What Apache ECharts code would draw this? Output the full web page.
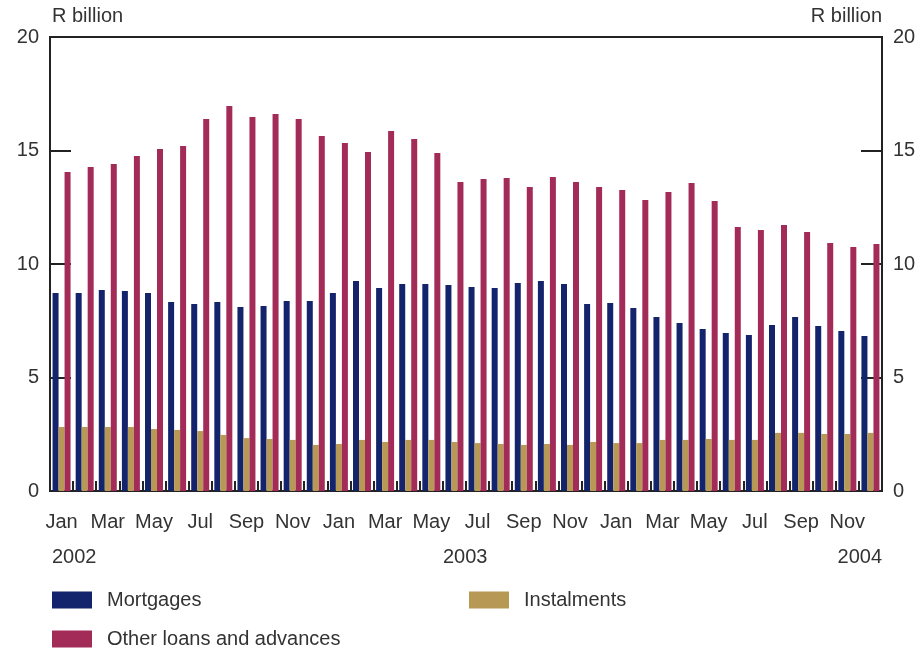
<!DOCTYPE html>
<html>
<head>
<meta charset="utf-8">
<script src="https://cdn.jsdelivr.net/npm/echarts@6/dist/echarts.min.js"></script>
<style>
html,body{margin:0;padding:0;background:#fff;}
#chart{width:923px;height:653px;}
</style>
</head>
<body>
<div id="chart"></div>
<script>
var categories = [
  'Jan 2002','Feb 2002','Mar 2002','Apr 2002','May 2002','Jun 2002','Jul 2002','Aug 2002','Sep 2002','Oct 2002','Nov 2002','Dec 2002',
  'Jan 2003','Feb 2003','Mar 2003','Apr 2003','May 2003','Jun 2003','Jul 2003','Aug 2003','Sep 2003','Oct 2003','Nov 2003','Dec 2003',
  'Jan 2004','Feb 2004','Mar 2004','Apr 2004','May 2004','Jun 2004','Jul 2004','Aug 2004','Sep 2004','Oct 2004','Nov 2004','Dec 2004'
];
var mortgages = [
  8.72, 8.72, 8.85, 8.81, 8.72, 8.33, 8.24, 8.33, 8.11, 8.15, 8.37, 8.37,
  8.72, 9.25, 8.94, 9.12, 9.12, 9.07, 8.99, 8.94, 9.16, 9.25, 9.12, 8.24,
  8.28, 8.06, 7.67, 7.40, 7.14, 6.96, 6.87, 7.31, 7.67, 7.27, 7.05, 6.83
];
var instalments = [
  2.82, 2.82, 2.82, 2.82, 2.73, 2.69, 2.64, 2.47, 2.33, 2.29, 2.25, 2.03,
  2.07, 2.25, 2.16, 2.25, 2.25, 2.16, 2.11, 2.07, 2.03, 2.07, 2.03, 2.16,
  2.11, 2.11, 2.25, 2.25, 2.29, 2.25, 2.25, 2.56, 2.56, 2.51, 2.51, 2.56
];
var otherLoans = [
  14.05, 14.27, 14.40, 14.76, 15.07, 15.20, 16.39, 16.96, 16.48, 16.61, 16.39, 15.64,
  15.33, 14.93, 15.86, 15.51, 14.89, 13.61, 13.74, 13.79, 13.39, 13.83, 13.61, 13.39,
  13.26, 12.82, 13.17, 13.57, 12.78, 11.63, 11.50, 11.72, 11.41, 10.93, 10.75, 10.88
];
var yearLabels = ['2002', '2003', '2004'];
var unitLabel = 'R billion';

var FONT = '"Liberation Sans", Arial, sans-serif';
var TXT = '#333';
var C_MORT = '#13246C', C_INST = '#B89855', C_OTHER = '#A32B57';

var chart = echarts.init(document.getElementById('chart'), null, {renderer: 'canvas'});

function yAxisCfg(pos) {
  return {
    type: 'value', position: pos, min: 0, max: 20, interval: 5,
    axisLine: {show: true, lineStyle: {color: '#222', width: 2}},
    axisTick: {show: true, inside: true, length: 21, lineStyle: {color: '#222', width: 2}},
    splitLine: {show: false},
    axisLabel: {color: TXT, fontFamily: FONT, fontSize: 20, margin: 11}
  };
}

var legendText = {color: TXT, fontFamily: FONT, fontSize: 20, padding: [0, 0, 0, 10]};

var option = {
  animation: false,
  textStyle: {fontFamily: FONT},
  grid: {left: 50, right: 41, top: 37, bottom: 162, containLabel: false,
         show: true, borderColor: '#222', borderWidth: 2, backgroundColor: 'transparent'},
  legend: [
    {data: ['Mortgages'], left: 47, top: 585, itemWidth: 40, itemHeight: 17, icon: 'rect', textStyle: legendText},
    {data: ['Instalments'], left: 464, top: 585, itemWidth: 40, itemHeight: 17, icon: 'rect', textStyle: legendText},
    {data: ['Other loans and advances'], left: 47, top: 624, itemWidth: 40, itemHeight: 17, icon: 'rect', textStyle: legendText}
  ],
  xAxis: {
    type: 'category', data: categories, boundaryGap: true,
    axisLine: {show: true, lineStyle: {color: '#222', width: 2}},
    axisTick: {show: true, inside: true, length: 10, interval: 0, lineStyle: {color: '#222', width: 2}},
    axisLabel: {interval: 1, color: TXT, fontFamily: FONT, fontSize: 20, margin: 21,
                formatter: function (v) { return v.slice(0, 3); }},
    splitLine: {show: false}
  },
  yAxis: [yAxisCfg('left'), yAxisCfg('right')],
  series: [
    {name: 'Mortgages', type: 'bar', data: mortgages, barWidth: 6, barGap: '0%', itemStyle: {color: C_MORT}},
    {name: 'Instalments', type: 'bar', data: instalments, barWidth: 6, barGap: '0%', itemStyle: {color: C_INST}},
    {name: 'Other loans and advances', type: 'bar', data: otherLoans, barWidth: 6, barGap: '0%', itemStyle: {color: C_OTHER}}
  ],
  graphic: [
    {type: 'text', left: 52, top: 6, style: {text: unitLabel, fill: TXT, font: '20px ' + FONT}},
    {type: 'text', right: 41, top: 6, style: {text: unitLabel, fill: TXT, font: '20px ' + FONT}},
    {type: 'text', left: 52, top: 547, style: {text: yearLabels[0], fill: TXT, font: '20px ' + FONT}},
    {type: 'text', left: 443, top: 547, style: {text: yearLabels[1], fill: TXT, font: '20px ' + FONT}},
    {type: 'text', right: 41, top: 547, style: {text: yearLabels[2], fill: TXT, font: '20px ' + FONT}}
  ]
};
chart.setOption(option);
</script>
</body>
</html>
